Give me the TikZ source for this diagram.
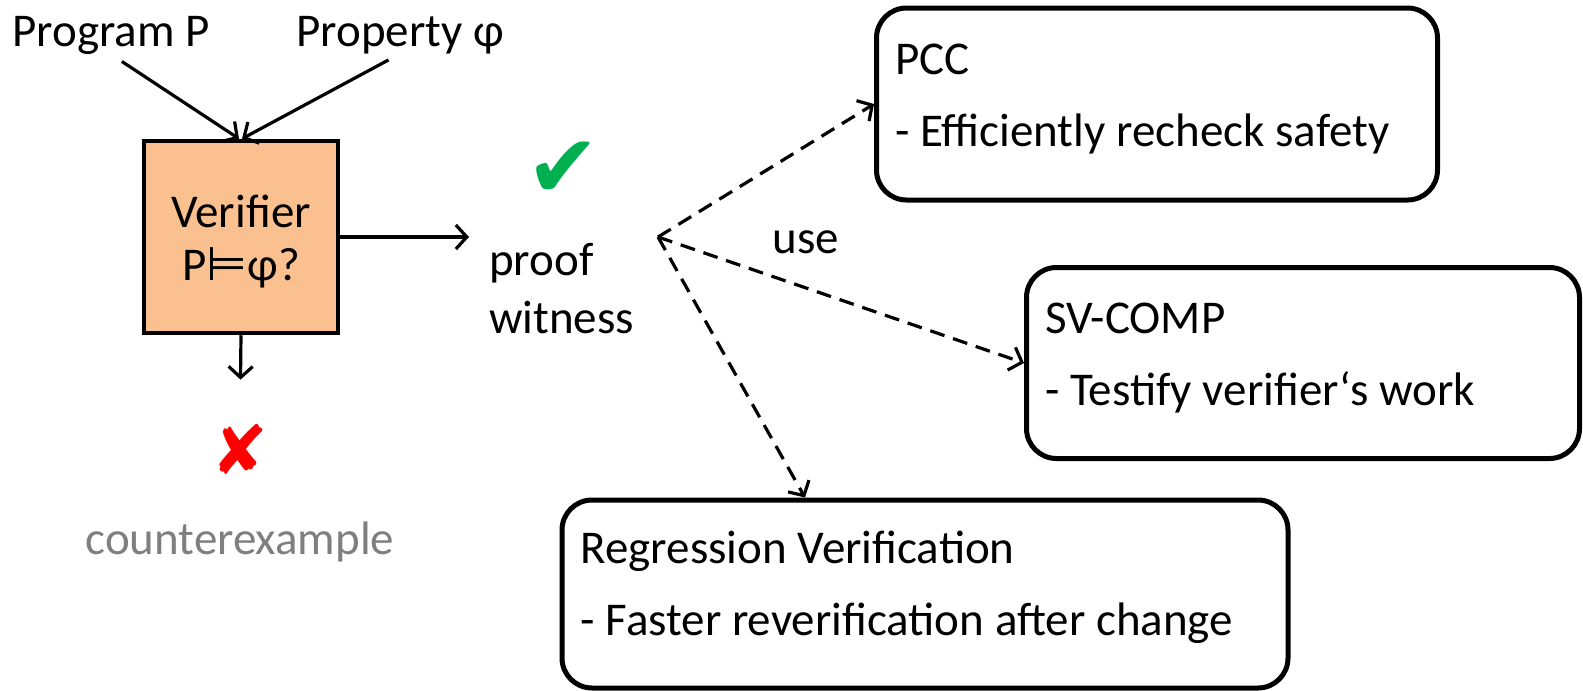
\documentclass[tikz,border=0pt]{standalone}
\usepackage{fontspec}
\setmainfont{Carlito}
\newfontfamily\symfont{DejaVu Sans}
\usetikzlibrary{arrows.meta,positioning,calc}
\definecolor{vfOrange}{HTML}{FAC090}
\definecolor{vfGreen}{HTML}{00B050}
\definecolor{vfRed}{HTML}{FF0000}
\definecolor{vfGrey}{HTML}{7F7F7F}

\begin{document}
\begin{tikzpicture}[
  x=1pt, y=-1pt,
  font=\fontsize{47}{53}\selectfont,
  lbl/.style={inner sep=0pt},
  verif/.style={draw, line width=4.5pt, fill=vfOrange, align=center, minimum width=194pt, minimum height=192pt},
  card/.style={draw, line width=5pt, rounded corners=30pt},
  cardtext/.style={anchor=base west, align=left, inner sep=0pt},
  arr/.style={-{Straight Barb[length=11pt,width=24pt]}, line width=3.2pt},
  usearr/.style={arr, dash pattern=on 15pt off 9pt}
]
  \useasboundingbox (0,0) rectangle (1583,691);

  % inputs and verifier
  \node[lbl, anchor=base] (prog) at (111,46) {Program P};
  \node[lbl, anchor=base] (prop) at (400,46) {Property φ};
  \node[verif] (verifier) at (241,237) {\rule{0pt}{42pt}Verifier\\P{\symfont ⊨}φ?};

  % outcomes
  \node[lbl, anchor=west, align=left, font=\fontsize{47}{58}\selectfont] (witness) at (489,289) {proof\\witness};
  \node[lbl, text=vfGreen, font=\symfont\fontsize{88}{88}\selectfont] (check) at (563,170) {✔};
  \node[lbl, text=vfRed, font=\symfont\fontsize{68}{68}\selectfont] (cross) at (240,449) {✘};
  \node[lbl, text=vfGrey] (cex) at (240,542) {counterexample};

  % uses of the witness
  \coordinate (hub) at (658,237);
  \node[lbl] (use) at (806,242) {use};
  \node[card, minimum width=561pt, minimum height=192pt] (pcc) at (1157,104) {};
  \node[cardtext] (pcctxt) at ([shift={(21,141)}]pcc.north west) {PCC\\[19pt]- Efficiently recheck safety};
  \node[card, minimum width=553pt, minimum height=191pt] (svcomp) at (1303,363) {};
  \node[cardtext] (svtxt) at ([shift={(21,140)}]svcomp.north west) {SV-COMP\\[19pt]- Testify verifier‘s work};
  \node[card, minimum width=726pt, minimum height=188pt] (regr) at (925,594) {};
  \node[cardtext] (regrtxt) at ([shift={(21,138)}]regr.north west) {Regression Verification\\[19pt]- Faster reverification after change};

  \draw[arr, shorten <=13pt] (prog.south) -- ([xshift=-2pt]verifier.north);
  \draw[arr, shorten <=13pt] (prop.south) -- ([xshift=1pt]verifier.north);
  \draw[arr, shorten >=20pt] (verifier.east) -- (verifier.east -| witness.west);
  \draw[arr, shorten >=44pt] (verifier.south) -- (cross.north);

  \draw[usearr] (hub) -- (pcc.west);
  \draw[usearr] (hub) -- (svcomp.west);
  \draw[usearr] (hub) -- ([xshift=-120pt]regr.north);
\end{tikzpicture}
\end{document}
